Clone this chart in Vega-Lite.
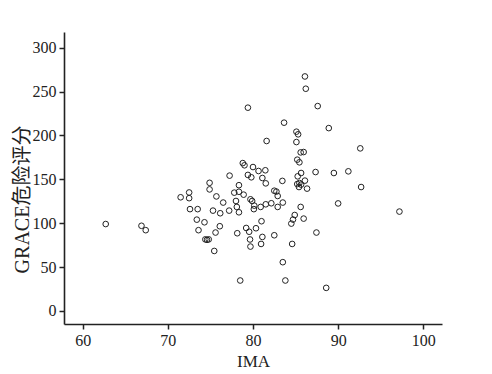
{
  "$schema": "https://vega.github.io/schema/vega-lite/v6.json",
  "autosize": "none",
  "width": 378,
  "height": 292,
  "padding": {"left": 64, "top": 32, "right": 50, "bottom": 50},
  "background": "white",
  "config": {
    "view": {"stroke": null},
    "font": "Liberation Serif",
    "axis": {
      "grid": false,
      "domainColor": "#222222",
      "domainWidth": 1.6,
      "tickColor": "#222222",
      "tickWidth": 1.5,
      "tickSize": 5,
      "labelFont": "Liberation Serif",
      "labelFontSize": 16,
      "labelColor": "#222222",
      "titleFont": "Liberation Serif, Noto Sans CJK SC",
      "titleFontWeight": "normal",
      "titleColor": "#222222"
    }
  },
  "data": {
    "values": [
      {"IMA": 62.7, "GRACE": 99},
      {"IMA": 66.9, "GRACE": 97},
      {"IMA": 67.4, "GRACE": 92},
      {"IMA": 71.5, "GRACE": 129.5},
      {"IMA": 72.5, "GRACE": 135},
      {"IMA": 72.5, "GRACE": 128.5},
      {"IMA": 72.6, "GRACE": 116},
      {"IMA": 73.5, "GRACE": 116},
      {"IMA": 73.4, "GRACE": 104},
      {"IMA": 74.3, "GRACE": 101},
      {"IMA": 73.6, "GRACE": 92},
      {"IMA": 74.4, "GRACE": 81.5},
      {"IMA": 74.6, "GRACE": 81},
      {"IMA": 74.8, "GRACE": 81.5},
      {"IMA": 74.9, "GRACE": 146},
      {"IMA": 74.9, "GRACE": 138.5},
      {"IMA": 75.7, "GRACE": 130.5},
      {"IMA": 75.3, "GRACE": 114.3},
      {"IMA": 75.6, "GRACE": 89.3},
      {"IMA": 75.45, "GRACE": 68.3},
      {"IMA": 76.1, "GRACE": 96.5},
      {"IMA": 76.15, "GRACE": 111.3},
      {"IMA": 76.5, "GRACE": 123.5},
      {"IMA": 77.2, "GRACE": 114.3},
      {"IMA": 77.25, "GRACE": 154.2},
      {"IMA": 77.8, "GRACE": 134.8},
      {"IMA": 78.35, "GRACE": 143.3},
      {"IMA": 78.35, "GRACE": 135.8},
      {"IMA": 78.9, "GRACE": 132.5},
      {"IMA": 78.0, "GRACE": 125.3},
      {"IMA": 78.1, "GRACE": 118.5},
      {"IMA": 78.35, "GRACE": 112.4},
      {"IMA": 78.15, "GRACE": 88.5},
      {"IMA": 78.5, "GRACE": 34.6},
      {"IMA": 78.8, "GRACE": 168.5},
      {"IMA": 79.0, "GRACE": 166},
      {"IMA": 79.4, "GRACE": 155},
      {"IMA": 79.4, "GRACE": 231.7},
      {"IMA": 79.2, "GRACE": 94.5},
      {"IMA": 79.55, "GRACE": 90.2},
      {"IMA": 79.65, "GRACE": 81.4},
      {"IMA": 79.7, "GRACE": 73.3},
      {"IMA": 79.7, "GRACE": 127.2},
      {"IMA": 79.9, "GRACE": 125.3},
      {"IMA": 80.15, "GRACE": 120},
      {"IMA": 80.1, "GRACE": 116},
      {"IMA": 79.8, "GRACE": 152.3},
      {"IMA": 80.0, "GRACE": 164},
      {"IMA": 80.65, "GRACE": 159.5},
      {"IMA": 81.45, "GRACE": 160.3},
      {"IMA": 81.1, "GRACE": 151.5},
      {"IMA": 81.5, "GRACE": 145.4},
      {"IMA": 80.9, "GRACE": 118.5},
      {"IMA": 81.5, "GRACE": 121.5},
      {"IMA": 82.15, "GRACE": 122.7},
      {"IMA": 82.9, "GRACE": 118.5},
      {"IMA": 83.5, "GRACE": 123.5},
      {"IMA": 81.0, "GRACE": 102.2},
      {"IMA": 80.35, "GRACE": 94.2},
      {"IMA": 81.1, "GRACE": 84.3},
      {"IMA": 80.95, "GRACE": 76.3},
      {"IMA": 82.5, "GRACE": 86.2},
      {"IMA": 81.6, "GRACE": 193.7},
      {"IMA": 82.5, "GRACE": 137},
      {"IMA": 82.75, "GRACE": 136},
      {"IMA": 82.9, "GRACE": 131},
      {"IMA": 83.45, "GRACE": 148.2},
      {"IMA": 83.65, "GRACE": 214.6},
      {"IMA": 83.5, "GRACE": 55.5},
      {"IMA": 83.8, "GRACE": 34.6},
      {"IMA": 84.5, "GRACE": 99.5},
      {"IMA": 84.7, "GRACE": 104.1},
      {"IMA": 84.9, "GRACE": 109.3},
      {"IMA": 84.6, "GRACE": 76.3},
      {"IMA": 85.1, "GRACE": 204.3},
      {"IMA": 85.3, "GRACE": 201.3},
      {"IMA": 85.1, "GRACE": 192.5},
      {"IMA": 85.6, "GRACE": 180.7},
      {"IMA": 85.95, "GRACE": 181.1},
      {"IMA": 85.2, "GRACE": 172.4},
      {"IMA": 85.45, "GRACE": 169.4},
      {"IMA": 85.25, "GRACE": 153.4},
      {"IMA": 85.65, "GRACE": 157.2},
      {"IMA": 85.2, "GRACE": 144.6},
      {"IMA": 85.45, "GRACE": 145.8},
      {"IMA": 85.65, "GRACE": 144},
      {"IMA": 85.4, "GRACE": 141.2},
      {"IMA": 86.1, "GRACE": 148.5},
      {"IMA": 86.35, "GRACE": 139.4},
      {"IMA": 85.6, "GRACE": 118.5},
      {"IMA": 85.95, "GRACE": 105.2},
      {"IMA": 86.1, "GRACE": 267.3},
      {"IMA": 86.2, "GRACE": 253.3},
      {"IMA": 87.6, "GRACE": 233.5},
      {"IMA": 88.9, "GRACE": 208.4},
      {"IMA": 87.35, "GRACE": 158.3},
      {"IMA": 87.45, "GRACE": 89.3},
      {"IMA": 88.6, "GRACE": 26.2},
      {"IMA": 89.5, "GRACE": 157.2},
      {"IMA": 90.0, "GRACE": 122.5},
      {"IMA": 91.2, "GRACE": 159.1},
      {"IMA": 92.6, "GRACE": 185.3},
      {"IMA": 92.7, "GRACE": 141.2},
      {"IMA": 97.2, "GRACE": 113.2}
    ]
  },
  "mark": {"type": "point", "shape": "circle", "filled": false, "color": "#222222", "size": 32, "strokeWidth": 1, "opacity": 1},
  "encoding": {
    "x": {
      "field": "IMA", "type": "quantitative",
      "scale": {"domain": [57.8, 102.2], "nice": false, "zero": false},
      "axis": {"values": [60, 70, 80, 90, 100], "title": "IMA", "titleFontSize": 17, "titlePadding": 5, "labelPadding": 3}
    },
    "y": {
      "field": "GRACE", "type": "quantitative",
      "scale": {"domain": [-15, 318], "nice": false, "zero": false},
      "axis": {"values": [0, 50, 100, 150, 200, 250, 300], "title": "GRACE危险评分", "titleFontSize": 20, "titleX": -32, "titleY": 167, "titleAngle": -90, "titleAlign": "center", "titleBaseline": "bottom", "labelPadding": 3}
    }
  }
}
